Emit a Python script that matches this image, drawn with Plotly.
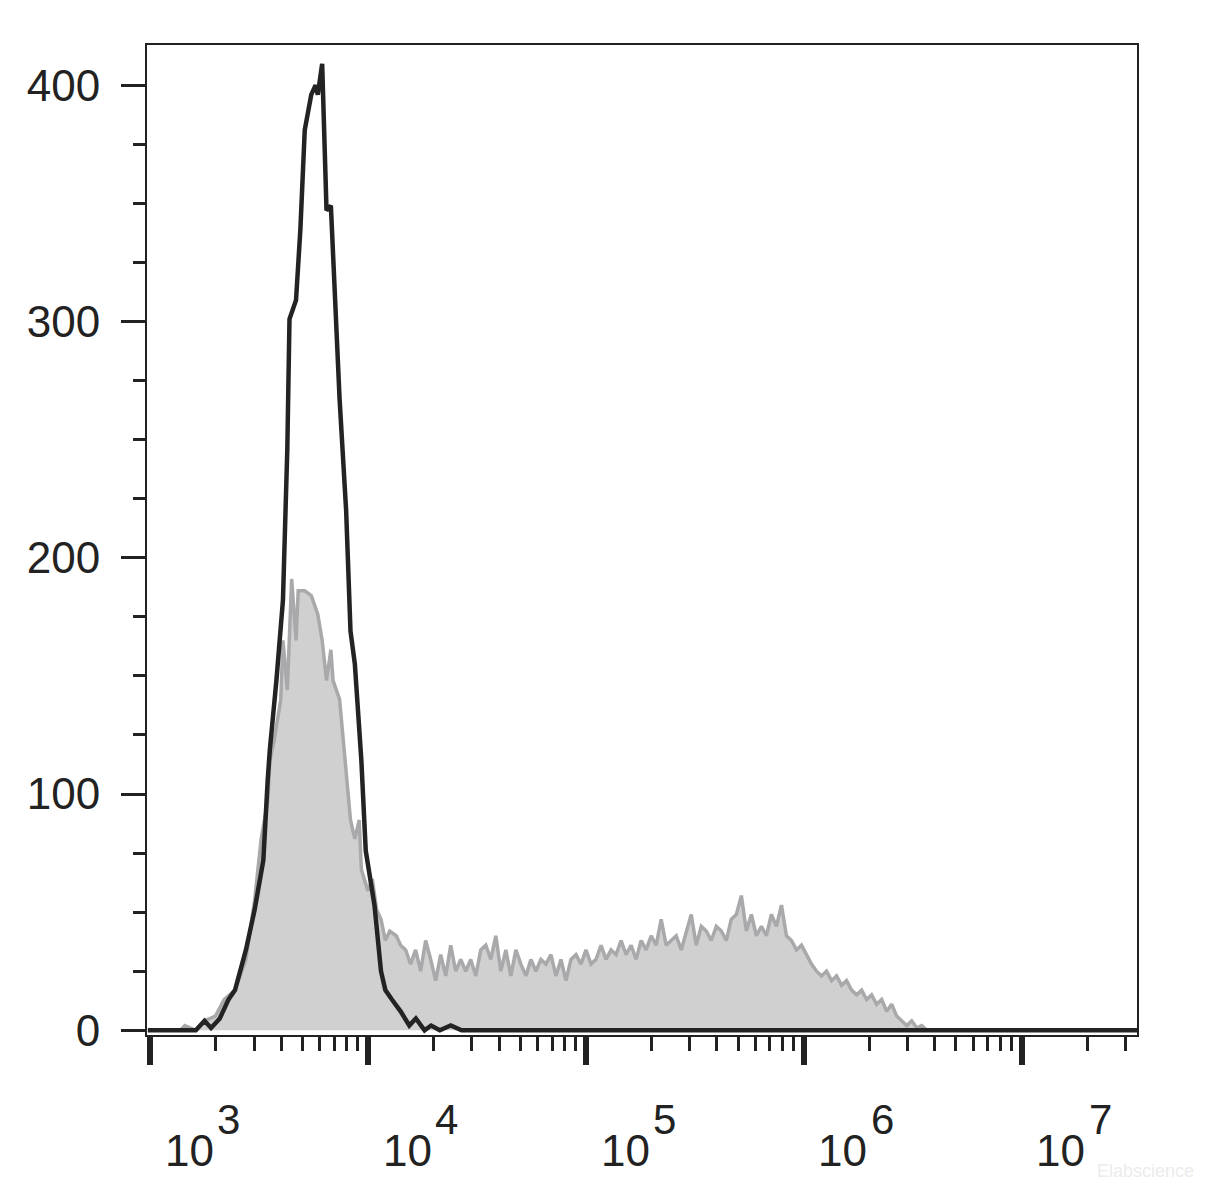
import numpy as np
import plotly.graph_objects as go

# black (stained) histogram: log10 intensity, count
black_exp = [2.99, 3.21, 3.25, 3.28, 3.32, 3.36, 3.39, 3.44, 3.48, 3.52, 3.54, 3.55, 3.58, 3.61, 3.63,
             3.64, 3.67, 3.69, 3.71, 3.74, 3.76, 3.77, 3.79, 3.81, 3.83, 3.85, 3.87, 3.90, 3.92, 3.94,
             3.97, 3.99, 4.01, 4.03, 4.06, 4.08, 4.11, 4.15, 4.19, 4.22, 4.26, 4.29, 4.33, 4.38, 4.43, 7.54]
black_cnt = [0, 0, 4, 1, 5, 13, 17, 34, 51, 72, 106, 119, 148, 182, 246,
             301, 309, 339, 381, 396, 400, 396, 409, 347, 349, 309, 267, 220, 169, 155,
             114, 76, 64, 53, 25, 17, 13, 8, 2, 5, 0, 2, 0, 2, 0, 0]

# grey (control) histogram, peak part
grey_exp_a = [2.99, 3.14, 3.16, 3.21, 3.25, 3.30, 3.34, 3.39, 3.44, 3.48, 3.51, 3.54, 3.55, 3.57, 3.60,
              3.61, 3.63, 3.65, 3.67, 3.68, 3.69, 3.71, 3.74, 3.77, 3.79, 3.81, 3.83, 3.84, 3.87, 3.90,
              3.92, 3.94, 3.96, 3.97, 4.00, 4.02, 4.04, 4.06, 4.08, 4.10, 4.13]
grey_cnt_a = [0, 0, 2, 0, 4, 6, 13, 17, 30, 55, 81, 97, 114, 123, 140,
              165, 144, 191, 165, 186, 186, 186, 184, 176, 165, 148, 161, 148, 140, 110,
              89, 81, 89, 68, 59, 64, 51, 47, 38, 42, 40]
# grey tail, regular bins starting at 10^4.15, step 0.023 decades
grey_cnt_b = [36, 34, 28, 34, 25, 38, 30, 21, 32, 23, 36, 25, 30, 25, 30, 23, 34, 36, 30, 40,
              25, 34, 23, 34, 28, 23, 30, 25, 30, 28, 32, 23, 30, 21, 30, 32, 28, 34, 28, 30,
              36, 30, 34, 32, 38, 32, 36, 30, 38, 34, 40, 36, 47, 36, 38, 40, 34, 42, 49, 36,
              44, 42, 38, 44, 42, 38, 47, 49, 57, 42, 49, 40, 44, 40, 49, 44, 53, 40, 38, 34,
              36, 32, 28, 25, 23, 25, 21, 23, 19, 21, 17, 15, 17, 13, 15, 11, 13, 8, 11, 6,
              4, 2, 4, 1, 2, 0]
grey_exp_b = list(np.round(4.15 + 0.023 * np.arange(len(grey_cnt_b)), 3))

grey_exp = grey_exp_a + grey_exp_b + [7.54]
grey_cnt = grey_cnt_a + grey_cnt_b + [0]

decades = [3, 4, 5, 6, 7]

fig = go.Figure()
fig.add_trace(go.Scatter(x=[10 ** e for e in grey_exp], y=grey_cnt, mode="lines", fill="tozeroy",
                         fillcolor="#d0d0d1", line=dict(color="#a9a9ac", width=3.5), showlegend=False))
fig.add_trace(go.Scatter(x=[10 ** e for e in black_exp], y=black_cnt, mode="lines",
                         line=dict(color="#232323", width=4.5), showlegend=False))

for d in decades:
    fig.add_annotation(x=d + 0.18, y=-0.09, xref="x", yref="paper", text="10",
                       showarrow=False, font=dict(size=44, color="#222"), yanchor="top")
    fig.add_annotation(x=d + 0.30, y=-0.06, xref="x", yref="paper", text=str(d),
                       showarrow=False, font=dict(size=42, color="#222"), yanchor="top", xanchor="left")
fig.add_annotation(x=1.06, y=-0.125, xref="paper", yref="paper", text="Elabscience",
                   showarrow=False, font=dict(size=18, color="#ececec"), xanchor="right", yanchor="top")

minor_vals = [m * 10 ** d for d in [2, 3, 4, 5, 6, 7] for m in range(2, 10)]
fig.update_layout(
    width=1228, height=1194, plot_bgcolor="white", paper_bgcolor="white",
    margin=dict(l=139, r=99, t=37, b=167, autoexpand=False),
    font=dict(family="Liberation Sans, Arial", color="#222"),
    xaxis=dict(type="log", range=[2.986, 7.53], tickvals=[10 ** d for d in decades], showticklabels=False,
               ticks="outside", ticklen=28, tickwidth=6, tickcolor="#222", showgrid=False, zeroline=False,
               showline=True, linecolor="#222", linewidth=2, mirror=True, automargin=False,
               minor=dict(tickvals=minor_vals, ticks="outside", ticklen=14, tickwidth=3, tickcolor="#222", showgrid=False)),
    yaxis=dict(range=[-2, 417], tickvals=[0, 100, 200, 300, 400], ticks="outside", ticklen=24, tickwidth=3,
               tickcolor="#222", tickfont=dict(size=44), showgrid=False, zeroline=False, automargin=False,
               ticklabelstandoff=12,
               showline=True, linecolor="#222", linewidth=2, mirror=True,
               minor=dict(dtick=25, ticks="outside", ticklen=12, tickwidth=3, tickcolor="#222", showgrid=False)),
)
fig.write_html("out.html")
